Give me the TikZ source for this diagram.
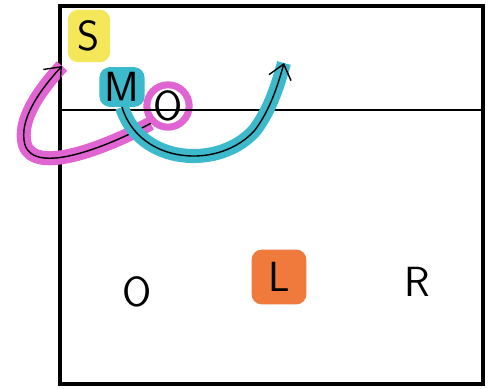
\documentclass[tikz,border=0pt]{standalone}
\usepackage{xcolor}
\usetikzlibrary{arrows.meta}

\definecolor{hlyellow}{HTML}{F4E85A}
\definecolor{hlcyan}{HTML}{3CB9CB}
\definecolor{hlpink}{HTML}{E064D2}
\definecolor{hlorange}{HTML}{F07A3C}

\begin{document}
\begin{tikzpicture}[x=0.02cm, y=-0.02cm, font=\sffamily\fontsize{24}{28}\selectfont]

  \tikzset{ltr/.style={inner sep=1pt},
           mark/.style={fill=#1, rounded corners=6pt, inner sep=3pt},
           loop/.style={thick, line cap=round, -{Straight Barb[length=8pt, width=13pt]},
                        preaction={draw=#1, line width=8pt, -}}}

  \useasboundingbox (0,0) rectangle (491,389);

  % highlights and letters of the top strip
  \node[ltr, mark=hlyellow, minimum width=0.85cm, minimum height=1.05cm] (s) at (89,36) {S};
  \node[ltr, mark=hlcyan] (m) at (122,87) {M};
  \node[ltr, draw=hlpink, line width=4pt, circle, inner sep=0pt] (mo) at (168,106) {O};

  % frame
  \draw[line width=2.2pt] (60,6) rectangle (483,384);
  \draw[line width=1.4pt] (60,110) -- (483,110);

  % letters of the lower part
  \node[ltr] (o) at (137,292) {O};
  \node[ltr, mark=hlorange, minimum width=1.1cm, minimum height=1.1cm] (l) at (279,277) {L};
  \node[ltr] (r) at (417,282) {R};

  % moves
  \coordinate (ptip) at (62,66);
  \coordinate (ctip) at (284,63);
  \draw[loop=hlpink] (mo.225) .. controls (105,148) and (35,175) .. (25,145)
                     .. controls (18,120) and (40,90) .. (ptip);
  \draw[loop=hlcyan] (m.south) .. controls (140,165) and (220,170) .. (255,130)
                     .. controls (270,110) and (278,85) .. (ctip);

\end{tikzpicture}
\end{document}
